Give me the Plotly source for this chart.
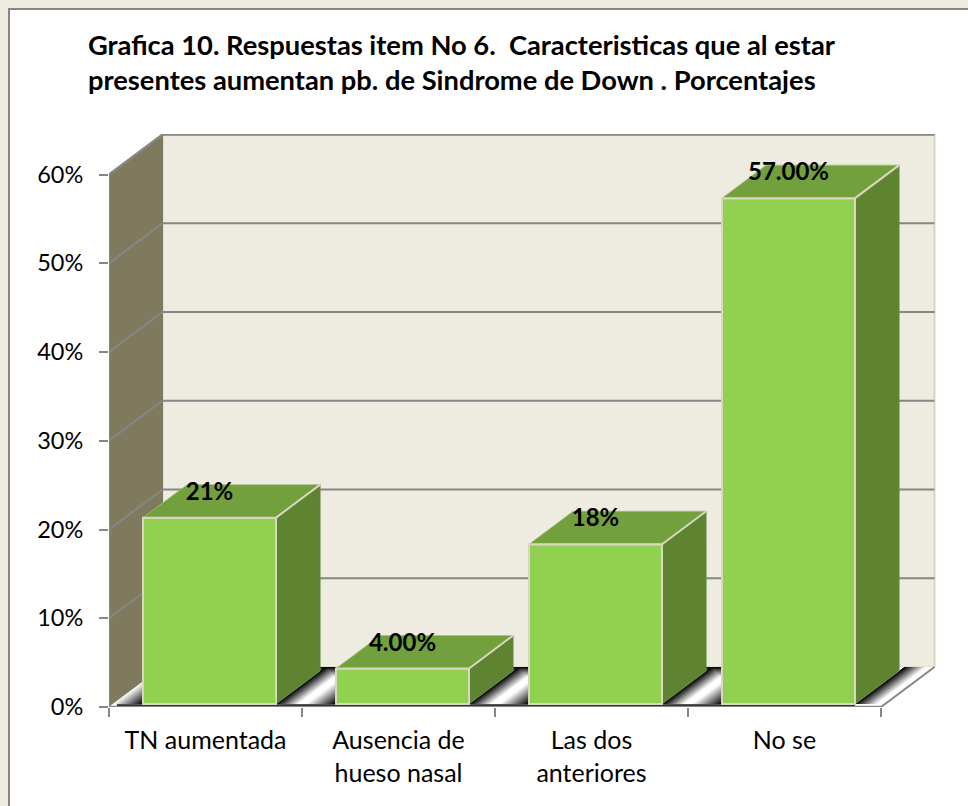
import plotly.graph_objects as go

categories = ["TN aumentada", "Ausencia de<br>hueso nasal", "Las dos<br>anteriores", "No se"]
values = [21, 4, 18, 57]
value_labels = ["21%", "4.00%", "18%", "57.00%"]
y_ticks = [0, 10, 20, 30, 40, 50, 60]
y_tick_labels = ["0%", "10%", "20%", "30%", "40%", "50%", "60%"]
title_text = ("Grafica 10. Respuestas item No 6.  Caracteristicas que al estar<br>"
              "presentes aumentan pb. de Sindrome de Down . Porcentajes")

W, H = 968, 806
L, R, T, B = 109, 32, 134, 99
PX_X = 193.0          # pixels per category
PX_Y = 8.875          # pixels per percentage point
DX = 53.5 / PX_X      # full depth of the box, in x units
DY = 40 / PX_Y        # full depth of the box, in y units
X_MAX = (W - L - R) / PX_X
Y_MAX = (H - T - B) / PX_Y
BAR_W = 133 / PX_X
D0, D1 = 0.075, 0.9   # bar front / back depth
N = len(categories)
FONT = "Lato"
GRAY = "#868686"
TAN = "#DAD6C0"


def P(x, y, d=0.0):
    return x + d * DX, y + d * DY


def poly(points):
    xs, ys = zip(*points)
    return list(xs) + [xs[0]], list(ys) + [ys[0]]


def fill_trace(points, color, line=None, lw=1, **kw):
    xs, ys = poly(points)
    return go.Scatter(x=xs, y=ys, mode="lines", fill="toself", fillcolor=color,
                      line=dict(color=line or color, width=lw), hoverinfo="skip",
                      showlegend=False, cliponaxis=False, **kw)


def path_trace(xs, ys, color, lw, **kw):
    return go.Scatter(x=xs, y=ys, mode="lines", line=dict(color=color, width=lw),
                      hoverinfo="skip", showlegend=False, cliponaxis=False, **kw)


fig = go.Figure()

# back wall
fig.add_trace(fill_trace([P(0, 0, 1), P(N, 0, 1), P(N, 60, 1), P(0, 60, 1)], "#EEEBE0", TAN, 2))
# side wall
fig.add_trace(fill_trace([P(0, 0), P(0, 0, 1), P(0, 60, 1), P(0, 60)], "#7F7A5E", "#7F7A5E", 1))
# gridlines
gx, gy = [], []
for t in y_ticks[1:-1]:
    gx += [P(0, t)[0], P(0, t, 1)[0], P(N, t, 1)[0], None]
    gy += [P(0, t)[1], P(0, t, 1)[1], P(N, t, 1)[1], None]
fig.add_trace(path_trace(gx, gy, GRAY, 2))
# wall top edge
fig.add_trace(path_trace([P(0, 60)[0], P(0, 60, 1)[0], P(N, 60, 1)[0]],
                         [P(0, 60)[1], P(0, 60, 1)[1], P(N, 60, 1)[1]], GRAY, 2.4))
# floor
fig.add_trace(fill_trace([P(0, 0), P(N, 0), P(N, 0, 1), P(0, 0, 1)], "#FFFFFF", "#FFFFFF", 0.5))

# floor shadows: translucent stacks whose combined darkness ramps linearly to black
LEVELS = 14
BAND_R = 22 / PX_X
BAND_L = 30 / PX_X
TOP_DEPTH = 0.25
for lv in range(1, LEVELS + 1):
    xs, ys = [], []
    wr = BAND_R * lv / LEVELS
    wl = BAND_L * lv / LEVELS
    dlow = 1 - TOP_DEPTH * lv / LEVELS
    for i in range(N):
        left = i + 0.5 - BAR_W / 2
        right = i + 0.5 + BAR_W / 2
        shapes_ = [
            [P(right, 0, D0), P(right + wr, 0, D0), P(right + wr, 0, 1), P(right, 0, 1)],
            [P(left - wl, 0, D0), P(left, 0, D0), P(left, 0, 1), P(left - wl, 0, 1)],
        ]
        if i < N - 1:
            x0 = P(right, 0, D0)[0]
            x1 = P(i + 1.5 - BAR_W / 2, 0, D0)[0]
            y0 = P(0, 0, dlow)[1]
            y1 = P(0, 0, 1)[1]
            shapes_.append([(x0, y0), (x1, y0), (x1, y1), (x0, y1)])
        for pts in shapes_:
            a, b = poly(pts)
            xs += a + [None]
            ys += b + [None]
    alpha = 0.5 / LEVELS if lv == LEVELS else 1 / (lv + 0.5)
    fig.add_trace(go.Scatter(x=xs, y=ys, mode="none", fill="toself",
                             fillcolor=f"rgba(0,0,0,{alpha:.4f})", hoverinfo="skip",
                             showlegend=False, cliponaxis=False))

# floor front edges and axis lines
fig.add_trace(path_trace([P(0.02, 0, D0)[0], P(N - 0.5 + BAR_W / 2, 0, D0)[0]],
                         [P(0.02, 0, D0 * 0.6)[1]] * 2, "#1A1A1A", 2))
fig.add_trace(path_trace([P(N, 0)[0], P(N, 0, 1)[0]], [P(N, 0)[1], P(N, 0, 1)[1]], GRAY, 2))
fig.add_trace(path_trace([0, N], [0, 0], GRAY, 2.5))
fig.add_trace(path_trace([0, 0], [0, 60], GRAY, 2.5))

# bars, overlay subplot keeps them above the walls and floor
bar_x = [P(i + 0.5, 0, D0)[0] for i in range(N)]
fig.add_trace(go.Bar(x=bar_x, y=values, base=[P(0, 0, D0)[1]] * N, width=BAR_W,
                     marker=dict(color="#92D050", line=dict(color=TAN, width=2)),
                     hoverinfo="skip", showlegend=False, xaxis="x2", yaxis="y2"))
for i, v in enumerate(values):
    left = i + 0.5 - BAR_W / 2
    right = i + 0.5 + BAR_W / 2
    fig.add_trace(fill_trace([P(left, v, D0), P(right, v, D0), P(right, v, D1), P(left, v, D1)],
                             "#71A03C", "#A9BE83", 0.8, xaxis="x2", yaxis="y2"))
    fig.add_trace(fill_trace([P(right, 0, D0), P(right, v, D0), P(right, v, D1), P(right, 0, D1)],
                             "#5E8432", "#6F8F4A", 0.8, xaxis="x2", yaxis="y2"))
    fig.add_trace(path_trace([P(left, v, D0)[0], P(right, v, D0)[0], P(right, v, D1)[0]],
                             [P(left, v, D0)[1], P(right, v, D0)[1], P(right, v, D1)[1]],
                             TAN, 2, xaxis="x2", yaxis="y2"))
    fig.add_trace(path_trace([P(right, 0, D0)[0], P(right, v, D0)[0]],
                             [P(right, 0, D0)[1], P(right, v, D0)[1]],
                             TAN, 2, xaxis="x2", yaxis="y2"))

# value labels
fig.add_trace(go.Scatter(x=bar_x, y=[v + P(0, 0, D0)[1] + 2.7 for v in values], mode="text",
                         text=value_labels, textposition="middle center",
                         textfont=dict(family=FONT, size=24, color="#000000", weight="bold"),
                         hoverinfo="skip", showlegend=False, cliponaxis=False,
                         xaxis="x2", yaxis="y2"))


def px_rect(x0, y0, x1, y1, color):
    return dict(type="rect", xref="paper", yref="paper", layer="below",
                x0=(x0 - L) / (W - L - R), x1=(x1 - L) / (W - L - R),
                y0=(H - B - y0) / (H - T - B), y1=(H - B - y1) / (H - T - B),
                fillcolor=color, line=dict(width=0))


fig.update_layout(
    width=W, height=H, margin=dict(l=L, r=R, t=T, b=B, autoexpand=False),
    paper_bgcolor="#FFFFFF", plot_bgcolor="rgba(0,0,0,0)", showlegend=False,
    barmode="overlay", font=dict(family=FONT, size=23, color="#000000"),
    title=dict(text=title_text, x=88 / W, xanchor="left", y=1 - 55 / H, yanchor="top",
               yref="container", xref="container",
               font=dict(family=FONT, size=27.3, color="#000000", weight="bold")),
    xaxis=dict(range=[0, X_MAX], tickvals=list(range(N + 1)), ticktext=[""] * (N + 1),
               ticks="outside", ticklen=9, tickwidth=2, tickcolor=GRAY,
               showgrid=False, zeroline=False, showline=False),
    yaxis=dict(range=[0, Y_MAX], tickvals=y_ticks, ticktext=y_tick_labels,
               ticks="outside", ticklen=9, tickwidth=2, tickcolor=GRAY,
               ticklabelstandoff=11, tickfont=dict(family=FONT, size=23.5, color="#000000"),
               showgrid=False, zeroline=False, showline=False),
    xaxis2=dict(range=[0, X_MAX], overlaying="x", anchor="y2", side="bottom",
                tickvals=[i + 0.5 for i in range(N)], ticktext=categories, ticks="",
                ticklabelstandoff=16, tickfont=dict(family=FONT, size=25, color="#000000"),
                showgrid=False, zeroline=False, showline=False),
    yaxis2=dict(range=[0, Y_MAX], overlaying="y", anchor="x2", visible=False),
    shapes=[
        px_rect(0, 0, W, 8, "#EEECE1"),
        px_rect(0, 0, 8, H, "#EEECE1"),
        px_rect(8, 8, W, 10, "#868686"),
        px_rect(8, 8, 10, H, "#868686"),
    ],
)

fig.write_html("out.html", config={"displayModeBar": False},
               post_script="document.body.style.margin='0';")
